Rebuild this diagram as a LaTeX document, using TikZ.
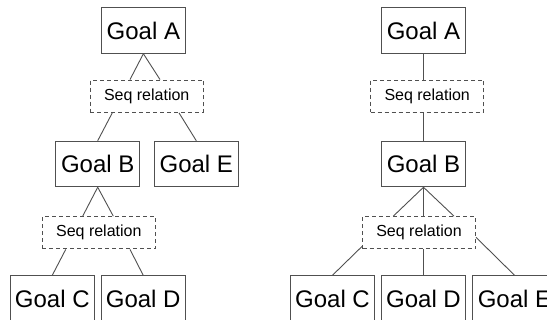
\documentclass[tikz,border=0pt]{standalone}
\usepackage{fontspec}
\setmainfont{Liberation Sans}
\usetikzlibrary{positioning,calc}
\definecolor{LINE-GRAY}{RGB}{80, 80, 80}

\begin{document}
\begin{tikzpicture}[x=1pt, y=-1pt,
    goalbox/.style={draw=LINE-GRAY, line width=1pt, inner sep=0pt,
      minimum width=84pt, minimum height=45.5pt,
      font=\fontsize{24}{28}\selectfont},
    seqbox/.style={draw=LINE-GRAY, line width=1pt, dash pattern=on 4pt off 3pt,
      inner sep=0pt, minimum width=113pt, minimum height=32.3pt,
      font=\fontsize{16}{19}\selectfont},
    link/.style={draw=LINE-GRAY, line width=0.9pt}]
  \clip (0,0) rectangle (547,320);

  % Left tree: A -> (B, E), B -> (C, D)
  \node[goalbox] (lA) at (143.4,30.5) {Goal A};
  \node[seqbox]  (lS1) at (146.7,96.2) {Seq relation};
  \node[goalbox] (lB) at (97.7,164) {Goal B};
  \node[goalbox] (lE) at (196.3,164) {Goal E};
  \node[seqbox]  (lS2) at (98.8,232.8) {Seq relation};
  \node[goalbox] (lC) at (52.3,298.5) {Goal C};
  \node[goalbox] (lD) at (143.2,298.5) {Goal D};

  \draw[link] (lA.south) -- ([xshift=-16.7pt]lS1.north);
  \draw[link] (lA.south) -- ([xshift=13.3pt]lS1.north);
  \draw[link] ([xshift=-34.4pt]lS1.south) -- (lB.north);
  \draw[link] ([xshift=32.3pt]lS1.south) -- (lE.north);

  \draw[link] (lB.south) -- ([xshift=-16.1pt]lS2.north);
  \draw[link] (lB.south) -- ([xshift=14.5pt]lS2.north);
  \draw[link] ([xshift=-33.1pt]lS2.south) -- (lC.north);
  \draw[link] ([xshift=31.2pt]lS2.south) -- (lD.north);

  % Right tree: A -> B -> (C, D, E)
  \node[goalbox] (rA) at (423.5,30.5) {Goal A};
  \node[seqbox]  (rS1) at (427.2,96.2) {Seq relation};
  \node[goalbox] (rB) at (423.5,164) {Goal B};
  \node[seqbox]  (rS2) at (419,232.8) {Seq relation};
  \node[goalbox] (rC) at (332.5,298.5) {Goal C};
  \node[goalbox] (rD) at (423.5,298.5) {Goal D};
  \node[goalbox] (rE) at (514.5,298.5) {Goal E};

  \draw[link] (rA.south) -- (rA.south |- rS1.north);
  \draw[link] (rB.north |- rS1.south) -- (rB.north);

  \draw[link] (rB.south) -- ([xshift=-25.7pt]rS2.north);
  \draw[link] (rB.south) -- (rB.south |- rS2.north);
  \draw[link] (rB.south) -- ([xshift=35pt]rS2.north);
  \draw[link] ([yshift=3pt]rS2.south west) -- (rC.north);
  \draw[link] (rD.north |- rS2.south) -- (rD.north);
  \draw[link] ([yshift=-4.5pt]rS2.east) -- (rE.north);
\end{tikzpicture}
\end{document}
